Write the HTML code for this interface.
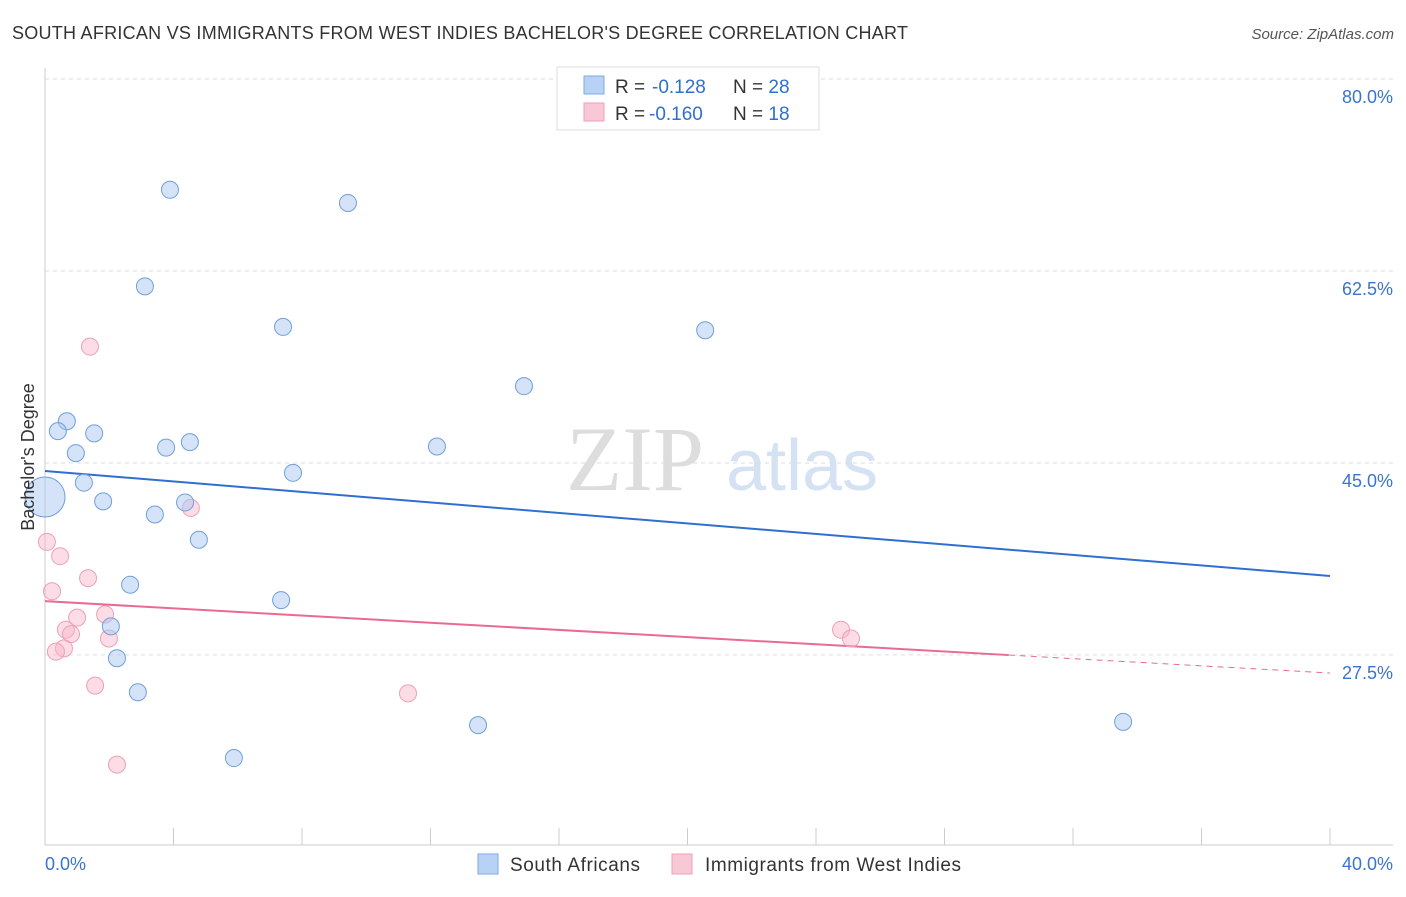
<!DOCTYPE html>
<html><head><meta charset="utf-8"><style>
body{margin:0;background:#fff;font-family:"Liberation Sans",sans-serif;}
</style></head><body>
<svg id="chart" width="1406" height="892" xmlns="http://www.w3.org/2000/svg">
<text x="12" y="39" font-size="18" fill="#333" textLength="896" lengthAdjust="spacing">SOUTH AFRICAN VS IMMIGRANTS FROM WEST INDIES BACHELOR'S DEGREE CORRELATION CHART</text>
<text x="1394" y="39" font-size="15" fill="#555" font-style="italic" text-anchor="end">Source: ZipAtlas.com</text>
<g>
<text x="635" y="490" font-size="92" fill="#ddd" font-family="Liberation Serif,serif" text-anchor="middle">ZIP</text>
<text x="802" y="490" font-size="72" fill="#d4e2f4" text-anchor="middle">atlas</text>
</g>
<g id="grid"></g>
<g id="axes"></g>
<g id="trends"></g>
<g id="points"></g>
<text x="34" y="457" font-size="18" fill="#333" text-anchor="middle" transform="rotate(-90 34 457)">Bachelor's Degree</text>
<text x="45" y="870" font-size="18" fill="#3a74d0">0.0%</text>
<text x="1393" y="870" font-size="18" fill="#3a74d0" text-anchor="end">40.0%</text>
<g>
<rect x="557" y="67" width="262" height="63" fill="#fff" stroke="#ddd"/>
<rect x="584" y="76" width="20" height="18" fill="#b8d2f6" stroke="#7fa9e0"/>
<rect x="584" y="103" width="20" height="18" fill="#f9c8d6" stroke="#f0a0b8"/>
<text x="615" y="93" font-size="19" fill="#333">R = <tspan x="652" fill="#2f6fd0">-0.128</tspan><tspan x="733">N = </tspan><tspan fill="#2f6fd0">28</tspan></text>
<text x="615" y="120" font-size="19" fill="#333">R = <tspan x="649" fill="#2f6fd0">-0.160</tspan><tspan x="733">N = </tspan><tspan fill="#2f6fd0"> 18</tspan></text>
</g>
<g>
<rect x="478" y="854" width="20" height="20" fill="#b8d2f6" stroke="#7fa9e0"/>
<text x="510" y="871" font-size="19" fill="#333" textLength="130">South Africans</text>
<rect x="672" y="854" width="20" height="20" fill="#f9c8d6" stroke="#f0a0b8"/>
<text x="705" y="871" font-size="19" fill="#333" textLength="256">Immigrants from West Indies</text>
</g>
</svg>
<script>
const yTicks=[80,62.5,45,27.5];
const yTickLabels=["80.0%","62.5%","45.0%","27.5%"];
const xTicks=[0,4,8,12,16,20,24,28,32,36,40];
const blueX=[3.89,9.43,3.11,7.41,20.55,14.91,0.68,0.40,1.53,3.77,4.51,12.20,0.96,7.72,1.21,0,1.81,4.36,3.42,4.79,2.65,7.35,2.05,2.24,2.89,13.48,5.88,33.56];
const blueY=[69.9,68.7,61.1,57.4,57.1,52.0,48.8,47.9,47.7,46.4,46.9,46.5,45.9,44.1,43.2,41.9,41.5,41.4,40.3,38.0,33.9,32.5,30.1,27.2,24.1,21.1,18.1,21.4];
const blueR=[8.5,8.5,8.5,8.5,8.5,8.5,8.5,8.5,8.5,8.5,8.5,8.5,8.5,8.5,8.5,20,8.5,8.5,8.5,8.5,8.5,8.5,8.5,8.5,8.5,8.5,8.5,8.5];
const pinkX=[1.40,4.54,0.06,0.47,1.34,0.22,1.87,1.00,0.65,0.81,1.99,0.59,0.34,1.56,11.30,2.24,24.78,25.09];
const pinkY=[55.6,40.9,37.8,36.5,34.5,33.3,31.2,30.9,29.8,29.4,29.0,28.1,27.8,24.7,24.0,17.5,29.8,29.0];
const blueTrend=[44.27,34.7];
const pinkTrend=[32.4,25.85];
const pinkSolidEnd=30;
const NS="http://www.w3.org/2000/svg";
const X=v=>45+v*32.125, Y=v=>79+(80-v)*10.97;
function mk(tag,attrs,parent){const e=document.createElementNS(NS,tag);for(const k in attrs)e.setAttribute(k,attrs[k]);document.getElementById(parent).appendChild(e);return e;}
yTicks.forEach((t,i)=>{
 const l=mk('line',{x1:45,x2:1393,y1:Y(t),y2:Y(t),stroke:'#ddd','stroke-dasharray':'4,4'},'grid');
 
 
 const tx=mk('text',{x:1393,y:Y(t)+24,'font-size':18,fill:'#3a74d0','text-anchor':'end'},'grid');
 tx.textContent=yTickLabels[i];
 
 
});
const ya=mk('line',{x1:45,x2:45,y1:68,y2:845,stroke:'#ccc'},'axes');


const xa=mk('line',{x1:45,x2:1393,y1:845,y2:845,stroke:'#ccc'},'axes');


xTicks.forEach(t=>{
 const l=mk('line',{x1:X(t),x2:X(t),y1:828,y2:845,stroke:'#ccc'},'axes');
 
 
});
const bt=mk('line',{x1:X(0),y1:Y(blueTrend[0]),x2:X(40),y2:Y(blueTrend[1]),stroke:'#2f6fd0','stroke-width':2},'trends');


const pm=pinkTrend[0]+(pinkTrend[1]-pinkTrend[0])*pinkSolidEnd/40;
const pt=mk('line',{x1:X(0),y1:Y(pinkTrend[0]),x2:X(pinkSolidEnd),y2:Y(pm),stroke:'#e86a95','stroke-width':2},'trends');


const pd=mk('line',{x1:X(pinkSolidEnd),y1:Y(pm),x2:X(40),y2:Y(pinkTrend[1]),stroke:'#e86a95','stroke-width':1,'stroke-dasharray':'6,5'},'trends');


pinkX.forEach((v,i)=>{
 const c=mk('circle',{cx:X(v),cy:Y(pinkY[i]),r:8.5,fill:'rgba(248,180,200,0.45)',stroke:'#eea0b8','stroke-width':1},'points');
 
 
});
blueX.forEach((v,i)=>{
 const c=mk('circle',{cx:X(v),cy:Y(blueY[i]),r:blueR[i],fill:'rgba(170,200,242,0.5)',stroke:'#6f9fdc','stroke-width':1},'points');
 
 
});
</script>
</body></html>
